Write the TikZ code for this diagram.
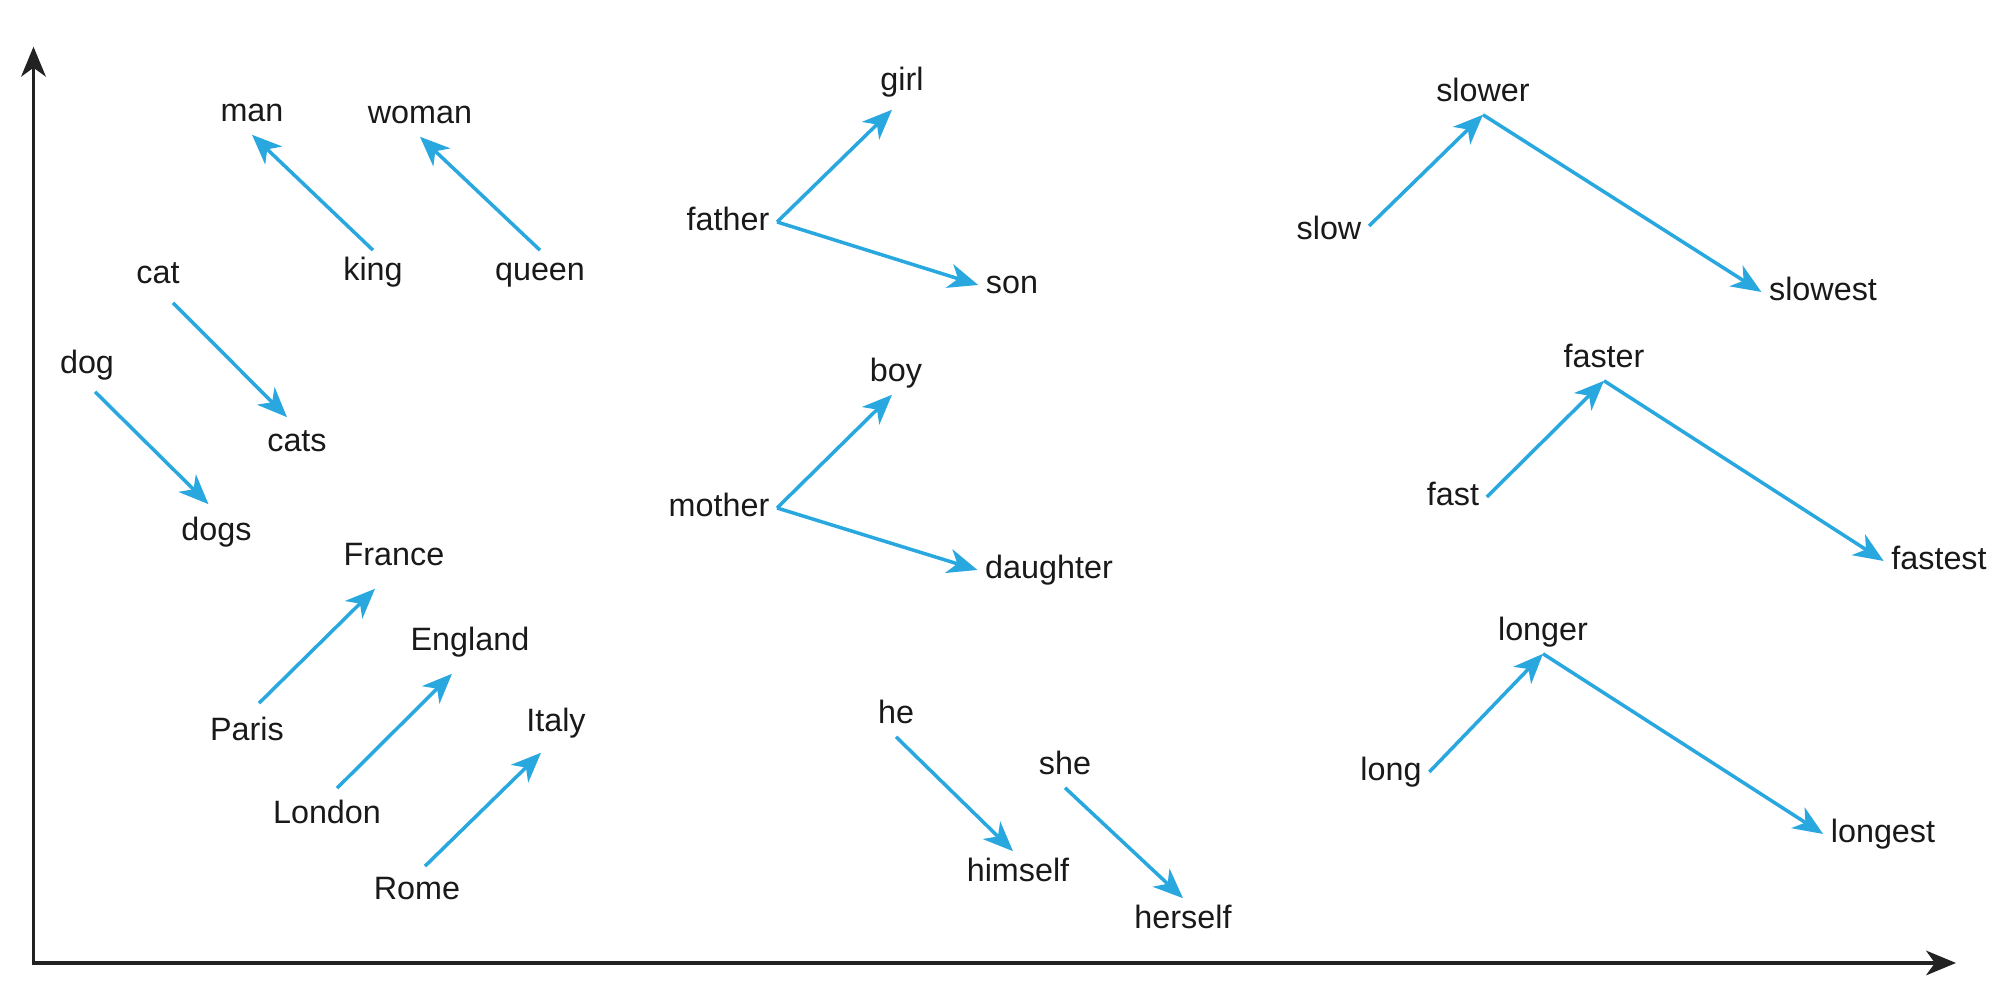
\documentclass[tikz,border=0pt]{standalone}
\usepackage{fontspec}
\setmainfont{Liberation Sans}
\usetikzlibrary{arrows.meta}
\definecolor{vecblue}{RGB}{41,168,224}
\definecolor{axisgray}{RGB}{34,34,34}
\begin{document}
\begin{tikzpicture}[x=1cm,y=1cm,
	word/.style={font=\fontsize{9.2pt}{11pt}\selectfont, text=black!90, text height=7pt, text depth=2pt, inner xsep=2pt, inner ysep=1.5pt},
	vec/.style={draw=vecblue, line width=1pt, -{Stealth[length=8.5pt,width=7pt,inset=2.5pt]}},
	axis/.style={draw=axisgray, line width=1pt, {Stealth[length=8.5pt,width=7pt,inset=2.5pt]}-{Stealth[length=8.5pt,width=7pt,inset=2.5pt]}}]
	\useasboundingbox (0,0) rectangle (20,10);
	\coordinate (ytip) at (0.335,9.533);
	\coordinate (xtip) at (19.56,0.37);
	\draw [axis] (ytip) |- (xtip);
	\node [word] (man) at (2.52,8.87) {man};
	\node [word] (woman) at (4.20,8.85) {woman};
	\node [word] (king) at (3.73,7.28) {king};
	\node [word] (queen) at (5.40,7.28) {queen};
	\node [word] (cat) at (1.58,7.25) {cat};
	\node [word] (cats) at (2.97,5.57) {cats};
	\node [word] (dog) at (0.87,6.35) {dog};
	\node [word] (dogs) at (2.165,4.68) {dogs};
	\node [word] (France) at (3.94,4.43) {France};
	\node [word] (Paris) at (2.47,2.68) {Paris};
	\node [word] (England) at (4.70,3.58) {England};
	\node [word] (London) at (3.27,1.85) {London};
	\node [word] (Italy) at (5.56,2.77) {Italy};
	\node [word] (Rome) at (4.17,1.09) {Rome};
	\node [word] (father) at (7.28,7.78) {father};
	\node [word] (girl) at (9.02,9.18) {girl};
	\node [word] (son) at (10.12,7.15) {son};
	\node [word] (mother) at (7.19,4.92) {mother};
	\node [word] (boy) at (8.96,6.27) {boy};
	\node [word] (daughter) at (10.49,4.30) {daughter};
	\node [word] (he) at (8.96,2.85) {he};
	\node [word] (himself) at (10.18,1.27) {himself};
	\node [word] (she) at (10.65,2.34) {she};
	\node [word] (herself) at (11.83,0.80) {herself};
	\node [word] (slow) at (13.29,7.69) {slow};
	\node [word] (slower) at (14.83,9.07) {slower};
	\node [word] (slowest) at (18.23,7.08) {slowest};
	\node [word] (fast) at (14.53,5.03) {fast};
	\node [word] (faster) at (16.04,6.41) {faster};
	\node [word] (fastest) at (19.39,4.39) {fastest};
	\node [word] (long) at (13.91,2.28) {long};
	\node [word] (longer) at (15.43,3.68) {longer};
	\node [word] (longest) at (18.83,1.66) {longest};
	\draw [vec] (king.north) -- (man.south);
	\draw [vec] (queen.north) -- (woman.south);
	\draw [vec] ([shift={(1.5mm,-0.6mm)}]cat.south) -- ([shift={(-1mm,0.4mm)}]cats.north);
	\draw [vec] ([shift={(0.8mm,-0.5mm)}]dog.south) -- ([shift={(-0.8mm,0.6mm)}]dogs.north);
	\draw [vec] ([shift={(1.2mm,0.7mm)}]Paris.north) -- ([shift={(-1.9mm,-1mm)}]France.south);
	\draw [vec] ([shift={(1mm,0.5mm)}]London.north) -- ([shift={(-1.8mm,-1mm)}]England.south);
	\draw [vec] ([shift={(0.8mm,0.3mm)}]Rome.north) -- ([shift={(-1.5mm,-0.8mm)}]Italy.south);
	\draw [vec] (father.east) -- ([shift={(-1mm,-0.6mm)}]girl.south);
	\draw [vec] (father.east) -- (son.west);
	\draw [vec] (mother.east) -- ([xshift=-0.4mm]boy.south);
	\draw [vec] (mother.east) -- (daughter.west);
	\draw [vec] (he.south) -- ([xshift=-0.5mm]himself.north);
	\draw [vec] (she.south) -- (herself.north);
	\draw [vec] ([yshift=0.5mm]slow.east) -- (slower.south);
	\draw [vec] (slower.south) -- (slowest.west);
	\draw [vec] (fast.east) -- (faster.south);
	\draw [vec] (faster.south) -- (fastest.west);
	\draw [vec] (long.east) -- (longer.south);
	\draw [vec] (longer.south) -- (longest.west);
\end{tikzpicture}
\end{document}
